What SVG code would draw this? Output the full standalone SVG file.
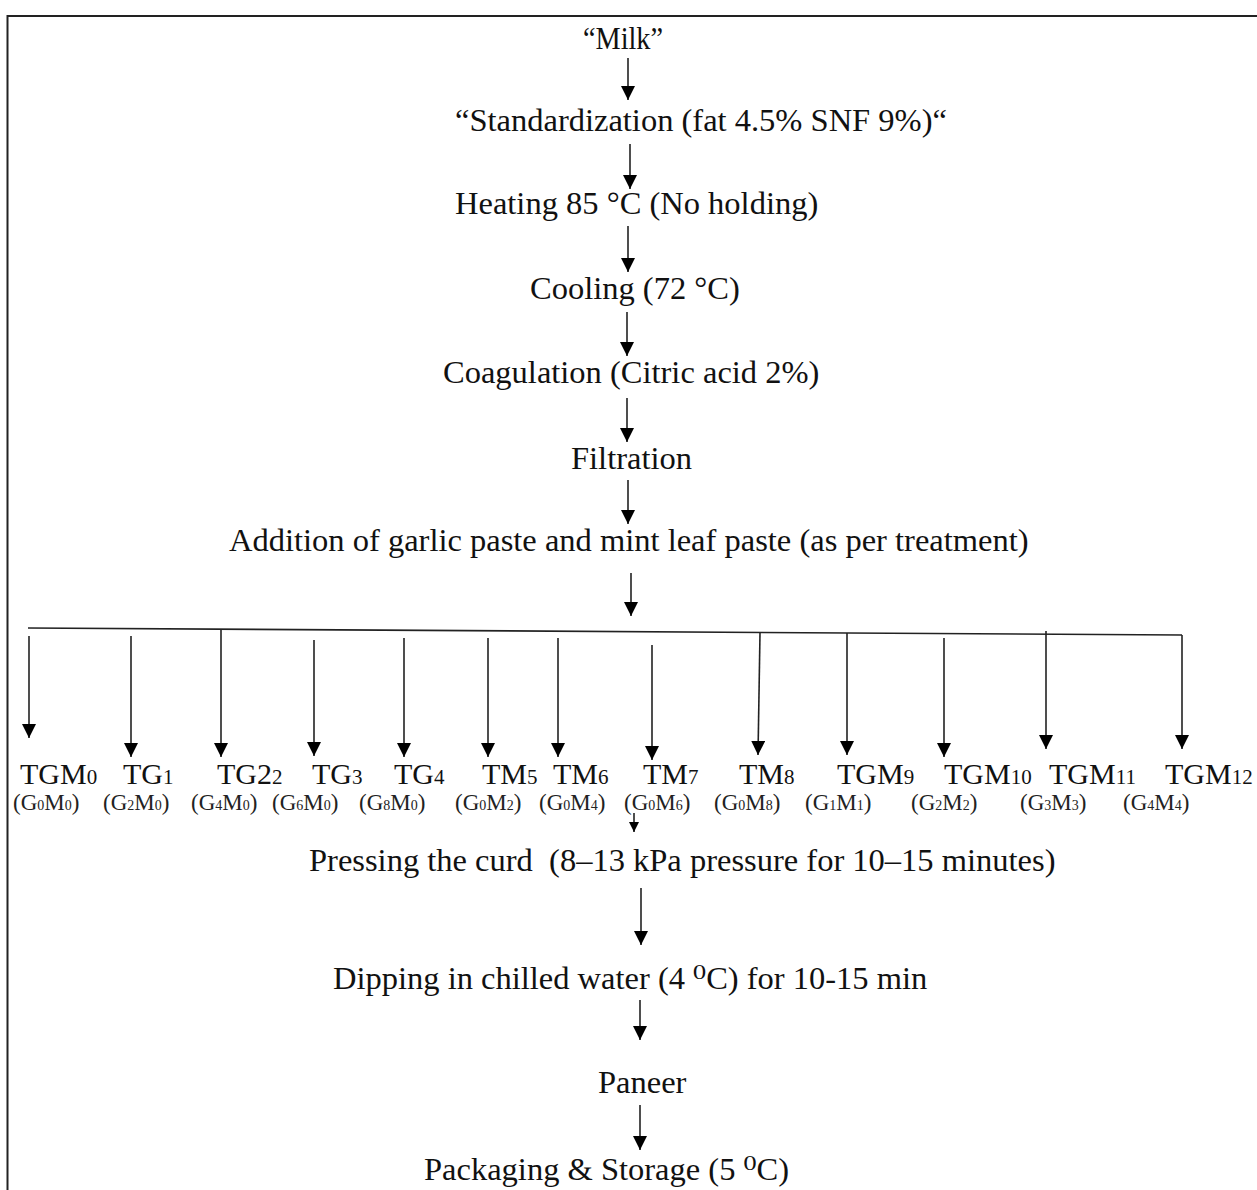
<svg xmlns="http://www.w3.org/2000/svg" width="1257" height="1190" viewBox="0 0 1257 1190">
<defs>
<marker id="ah" markerUnits="userSpaceOnUse" viewBox="0 0 14 14" markerWidth="14" markerHeight="14" refX="14" refY="7" orient="auto"><path d="M0,0 L14,7 L0,14 z" fill="#000"/></marker>
<marker id="ahs" markerUnits="userSpaceOnUse" viewBox="0 0 10 10" markerWidth="10" markerHeight="10" refX="10" refY="5" orient="auto"><path d="M0,0 L10,5 L0,10 z" fill="#000"/></marker>
</defs>
<style>
.t{font-family:"Liberation Serif","Times New Roman","DejaVu Serif",serif;font-size:32.5px;fill:#111;white-space:pre}
.l{font-family:"Liberation Serif","Times New Roman",serif;font-size:30px;fill:#111}
.l .s{font-size:21px}
.m{font-family:"Liberation Serif","Times New Roman",serif;font-size:23px;fill:#222}
.m .s{font-size:14px}
.c{stroke:#222;stroke-width:1.6;fill:none}
.a{marker-end:url(#ah)}
</style>
<rect width="1257" height="1190" fill="#fff"/>
<g id="frame">
<path d="M7.5,1190 V16 H1257" stroke="#222" stroke-width="2" fill="none"/>
</g>
<g id="n-milk"><text class="t" x="583" y="49" textLength="80" lengthAdjust="spacingAndGlyphs">“Milk”</text></g>
<g id="n-std"><text class="t" x="455" y="131">“Standardization (fat 4.5% SNF 9%)“</text></g>
<g id="n-heat"><text class="t" x="455" y="214">Heating 85 °C (No holding)</text></g>
<g id="n-cool"><text class="t" x="530" y="299">Cooling (72 °C)</text></g>
<g id="n-coag"><text class="t" x="443" y="383">Coagulation (Citric acid 2%)</text></g>
<g id="n-filt"><text class="t" x="571" y="469">Filtration</text></g>
<g id="n-add"><text class="t" x="229" y="551">Addition of garlic paste and mint leaf paste (as per treatment)</text></g>
<g id="n-treatments">
<text class="l" x="20" y="784">TGM<tspan class="s">0</tspan></text>
<text class="l" x="123" y="784">TG<tspan class="s">1</tspan></text>
<text class="l" x="217" y="784">TG2<tspan class="s">2</tspan></text>
<text class="l" x="312" y="784">TG<tspan class="s">3</tspan></text>
<text class="l" x="394" y="784">TG<tspan class="s">4</tspan></text>
<text class="l" x="482" y="784">TM<tspan class="s">5</tspan></text>
<text class="l" x="553" y="784">TM<tspan class="s">6</tspan></text>
<text class="l" x="643" y="784">TM<tspan class="s">7</tspan></text>
<text class="l" x="739" y="784">TM<tspan class="s">8</tspan></text>
<text class="l" x="837" y="784">TGM<tspan class="s">9</tspan></text>
<text class="l" x="944" y="784">TGM<tspan class="s">10</tspan></text>
<text class="l" x="1049" y="784">TGM<tspan class="s">11</tspan></text>
<text class="l" x="1165" y="784">TGM<tspan class="s">12</tspan></text>
<text class="m" x="13" y="810">(G<tspan class="s">0</tspan>M<tspan class="s">0</tspan>)</text>
<text class="m" x="103" y="810">(G<tspan class="s">2</tspan>M<tspan class="s">0</tspan>)</text>
<text class="m" x="191" y="810">(G<tspan class="s">4</tspan>M<tspan class="s">0</tspan>)</text>
<text class="m" x="272" y="810">(G<tspan class="s">6</tspan>M<tspan class="s">0</tspan>)</text>
<text class="m" x="359" y="810">(G<tspan class="s">8</tspan>M<tspan class="s">0</tspan>)</text>
<text class="m" x="455" y="810">(G<tspan class="s">0</tspan>M<tspan class="s">2</tspan>)</text>
<text class="m" x="539" y="810">(G<tspan class="s">0</tspan>M<tspan class="s">4</tspan>)</text>
<text class="m" x="624" y="810">(G<tspan class="s">0</tspan>M<tspan class="s">6</tspan>)</text>
<text class="m" x="714" y="810">(G<tspan class="s">0</tspan>M<tspan class="s">8</tspan>)</text>
<text class="m" x="805" y="810">(G<tspan class="s">1</tspan>M<tspan class="s">1</tspan>)</text>
<text class="m" x="911" y="810">(G<tspan class="s">2</tspan>M<tspan class="s">2</tspan>)</text>
<text class="m" x="1020" y="810">(G<tspan class="s">3</tspan>M<tspan class="s">3</tspan>)</text>
<text class="m" x="1123" y="810">(G<tspan class="s">4</tspan>M<tspan class="s">4</tspan>)</text>
</g>
<g id="n-press"><text class="t" x="309" y="871">Pressing the curd  (8–13 kPa pressure for 10–15 minutes)</text></g>
<g id="n-dip"><text class="t" x="333" y="989">Dipping in chilled water (4 ⁰C) for 10-15 min</text></g>
<g id="n-paneer"><text class="t" x="598" y="1093">Paneer</text></g>
<g id="n-pack"><text class="t" x="424" y="1180">Packaging &amp; Storage (5 ⁰C)</text></g>
<g id="connectors">
<line class="c a" x1="628" y1="58" x2="628" y2="100"/>
<line class="c a" x1="630" y1="144" x2="630" y2="189"/>
<line class="c a" x1="628" y1="226" x2="628" y2="272"/>
<line class="c a" x1="627" y1="312" x2="627" y2="356"/>
<line class="c a" x1="627" y1="398" x2="627" y2="442"/>
<line class="c a" x1="628" y1="480" x2="628" y2="524"/>
<line class="c a" x1="631" y1="573" x2="631" y2="616"/>
<line class="c" x1="28" y1="628" x2="1182" y2="635"/>
<line class="c a" x1="29" y1="636" x2="29" y2="738"/>
<line class="c a" x1="131" y1="636" x2="131" y2="757"/>
<line class="c a" x1="221" y1="630" x2="221" y2="757"/>
<line class="c a" x1="314" y1="640" x2="314" y2="756"/>
<line class="c a" x1="404" y1="638" x2="404" y2="757"/>
<line class="c a" x1="488" y1="638" x2="488" y2="757"/>
<line class="c a" x1="558" y1="638" x2="558" y2="757"/>
<line class="c a" x1="652" y1="645" x2="652" y2="760"/>
<line class="c a" x1="760" y1="633" x2="758" y2="755"/>
<line class="c a" x1="847" y1="633" x2="847" y2="755"/>
<line class="c a" x1="944" y1="638" x2="944" y2="757"/>
<line class="c a" x1="1046" y1="631" x2="1046" y2="749"/>
<line class="c a" x1="1182" y1="635" x2="1182" y2="749"/>
<line class="c" x1="634" y1="813" x2="634" y2="832" marker-end="url(#ahs)"/>
<line class="c a" x1="641" y1="888" x2="641" y2="945"/>
<line class="c a" x1="640" y1="1000" x2="640" y2="1040"/>
<line class="c a" x1="640" y1="1105" x2="640" y2="1150"/>
</g>
</svg>
